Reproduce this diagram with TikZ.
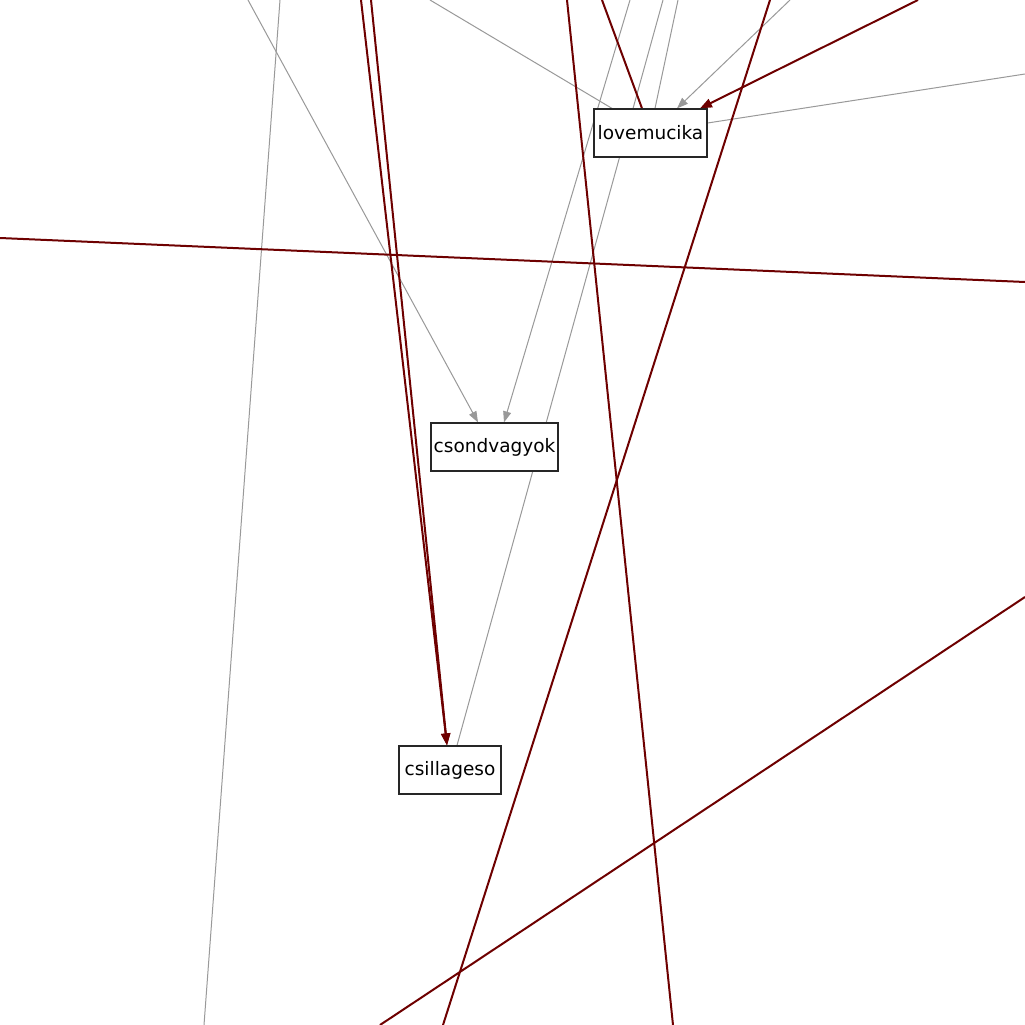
\documentclass[tikz,border=0pt]{standalone}
\usepackage{fontspec}
\setmainfont{DejaVu Sans}
\usepackage{xcolor}
\usetikzlibrary{arrows.meta, backgrounds}

\definecolor{edgered}{RGB}{110,0,0}
\definecolor{edgegrey}{RGB}{153,153,153}

\begin{document}
\begin{tikzpicture}[
    x=1pt, y=-1pt,
    font=\fontsize{18.5}{22}\selectfont,
    box/.style={
        rectangle,
        draw=black!85,
        fill=white,
        line width=1.2pt,
        minimum height=48pt,
        inner xsep=2pt
    },
    greyline/.style={edgegrey, line width=1pt},
    redline/.style ={edgered, line width=2pt},
    greyarr/.style={greyline, -{Triangle[length=11pt, width=8pt]}},
    redarr/.style ={redline, -{Triangle[length=12pt, width=9pt]}}
]
\useasboundingbox (0,0) rectangle (1025,1025);

\node[box, minimum width=113pt] (love)  at (650.5,133) {lovemucika};
\node[box, minimum width=127pt] (csond) at (494.5,447) {csondvagyok};
\node[box, minimum width=102pt] (csill) at (450,770)   {csillageso};

\coordinate (g1) at (248,0);
\coordinate (g2) at (630,0);
\coordinate (g3) at (663,0);
\coordinate (g4) at (678,0);
\coordinate (g5) at (790,0);
\coordinate (g6) at (430,0);
\coordinate (g7) at (1025,74);
\coordinate (g8a) at (280,0);
\coordinate (g8b) at (204,1025);
\coordinate (r1) at (361,0);
\coordinate (r2) at (371,0);
\coordinate (r3a) at (567,0);
\coordinate (r3b) at (673,1025);
\coordinate (r4) at (602,0);
\coordinate (r5a) at (770,0);
\coordinate (r5b) at (443,1025);
\coordinate (r6) at (918,0);
\coordinate (r7a) at (0,238);
\coordinate (r7b) at (1025,282);
\coordinate (r8a) at (1025,597);
\coordinate (r8b) at (380,1025);

\begin{pgfonlayer}{background}
\begin{scope}
\clip (0,0) rectangle (1025,1025);
\fill[white] (0,0) rectangle (1025,1025);

\draw[greyline] (g8a) -- (g8b);
\draw[greyarr]  (g1) -- ([xshift=-16.5pt]csond.north);
\draw[greyarr]  (g2) -- ([xshift=9.5pt]csond.north);
\draw[greyline] (g3) -- ([xshift=7pt]csill.north);
\draw[greyline] (g4) -- ([xshift=4.5pt]love.north);
\draw[greyarr]  (g5) -- ([xshift=26.5pt]love.north);
\draw[greyline] (g6) -- ([xshift=-38.5pt]love.north);
\draw[greyline] (g7) -- ([yshift=10pt]love.east);

\draw[redarr]  (r1) -- ([xshift=-3pt]csill.north);
\draw[redarr]  (r2) -- ([xshift=-3pt]csill.north);
\draw[redline] (r3a) -- (r3b);
\draw[redline] (r4) -- ([xshift=-8.5pt]love.north);
\draw[redline] (r5a) -- (r5b);
\draw[redarr]  (r6) -- ([xshift=49.5pt]love.north);
\draw[redline] (r7a) -- (r7b);
\draw[redline] (r8a) -- (r8b);
\end{scope}
\end{pgfonlayer}
\end{tikzpicture}
\end{document}
